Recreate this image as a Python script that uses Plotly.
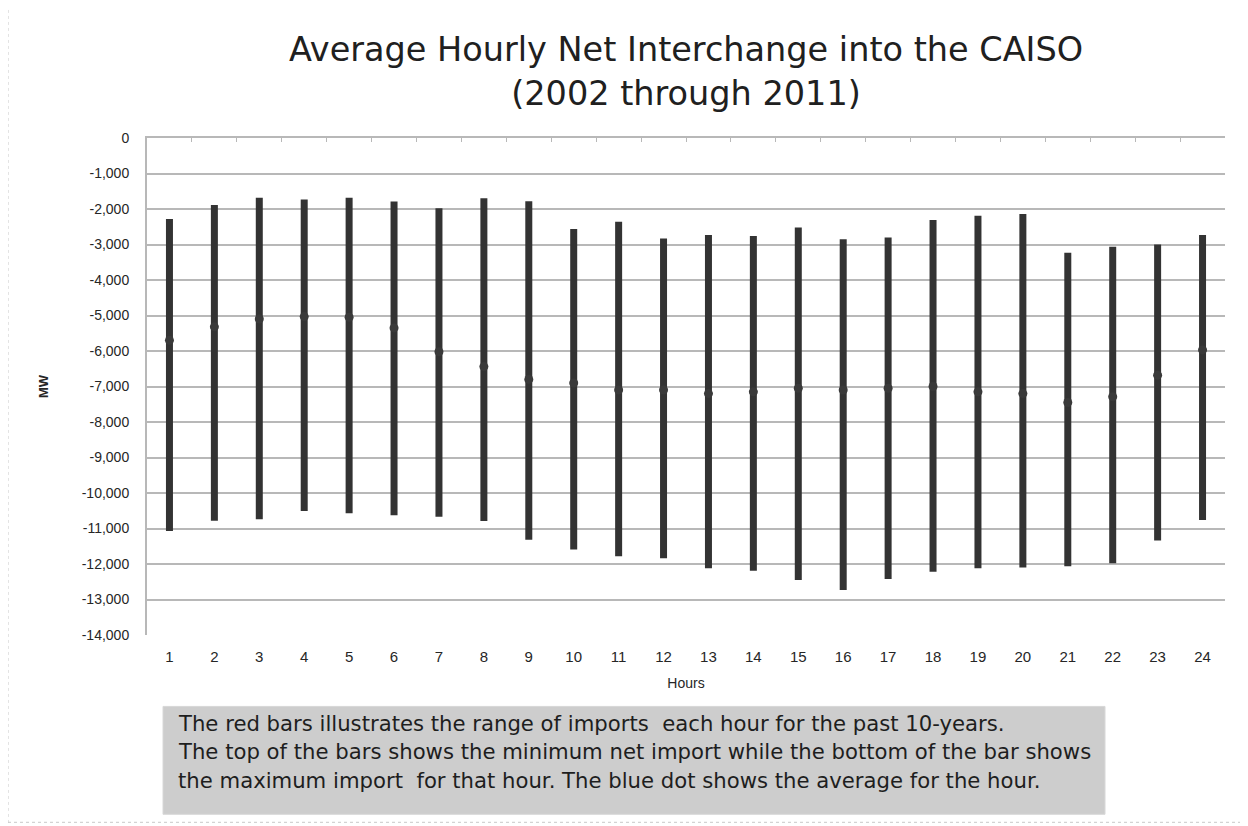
import plotly.graph_objects as go

# ---------------- data ----------------
hours = list(range(1, 25))
hour_labels = [str(h) for h in hours]

# top of each bar (minimum net import), MW
range_top = [-2280, -1890, -1680, -1730, -1680, -1790, -1980, -1700, -1780, -2560, -2360, -2830,
             -2730, -2760, -2520, -2850, -2800, -2310, -2190, -2140, -3230, -3060, -3000, -2730]
# bottom of each bar (maximum net import), MW
range_bottom = [-11070, -10780, -10740, -10510, -10570, -10630, -10670, -10790, -11320, -11590, -11780, -11840,
                -12120, -12190, -12450, -12730, -12420, -12220, -12120, -12100, -12060, -11980, -11340, -10760]
# hourly average (dot), MW
hour_avg = [-5700, -5320, -5100, -5030, -5050, -5350, -6020, -6440, -6800, -6900, -7100, -7100,
            -7200, -7150, -7050, -7100, -7050, -7000, -7150, -7200, -7450, -7290, -6680, -5970]

y_tick_vals = [0, -1000, -2000, -3000, -4000, -5000, -6000, -7000, -8000, -9000, -10000,
               -11000, -12000, -13000, -14000]
y_tick_text = ["0", "-1,000", "-2,000", "-3,000", "-4,000", "-5,000", "-6,000", "-7,000", "-8,000",
               "-9,000", "-10,000", "-11,000", "-12,000", "-13,000", "-14,000"]

title_text = "Average Hourly Net Interchange into the CAISO<br>(2002 through 2011)"
note_lines = [
    "The red bars illustrates the range of imports  each hour for the past 10-years.",
    "The top of the bars shows the minimum net import while the bottom of the bar shows",
    "the maximum import  for that hour. The blue dot shows the average for the hour.",
]

# ---------------- figure ----------------
bar_color = "#333333"
grid_color = "#b8b8b8"
text_color = "#262626"

xs, ys = [], []
for h, t, b in zip(hours, range_top, range_bottom):
    xs += [h, h, None]
    ys += [t, b, None]

fig = go.Figure()
fig.add_trace(go.Scatter(x=xs, y=ys, mode="lines",
                         line=dict(color=bar_color, width=7),
                         showlegend=False, hoverinfo="skip"))
fig.add_trace(go.Scatter(x=hours, y=hour_avg, mode="markers",
                         marker=dict(color="#3a3a3a", size=9),
                         showlegend=False))
# helper trace to register the top (category) axis that crosses at zero
fig.add_trace(go.Scatter(x=[hours[0]], y=[range_top[0]], xaxis="x2", mode="markers",
                         marker=dict(opacity=0), showlegend=False, hoverinfo="skip"))

fig.update_layout(
    width=1248, height=826,
    paper_bgcolor="white", plot_bgcolor="white",
    margin=dict(l=139, r=31, t=130, b=198.5),
    font=dict(family="Liberation Sans, Arial", color=text_color),
    title=dict(text=title_text, x=0.5, xanchor="center", xref="paper",
               y=1 - 53 / 826, yanchor="top", yref="container",
               font=dict(family="DejaVu Sans", size=33.5, color="#202020")),
    xaxis=dict(range=[0.5, 24.5], tickvals=hours, ticktext=hour_labels,
               showgrid=False, zeroline=False, showline=False,
               ticks="outside", ticklen=8, tickcolor="rgba(0,0,0,0)",
               tickfont=dict(size=15, color=text_color),
               title=dict(text="Hours", standoff=14, font=dict(size=14, color=text_color))),
    xaxis2=dict(range=[0.5, 24.5], overlaying="x", side="top", anchor="y",
                tickvals=[h - 0.5 for h in hours] + [hours[-1] + 0.5],
                ticks="inside", ticklen=4, tickcolor=grid_color,
                showticklabels=False, showgrid=False, zeroline=False,
                showline=True, linecolor=grid_color, linewidth=2),
    yaxis=dict(range=[-14000, 0], tickvals=y_tick_vals, ticktext=y_tick_text,
               showgrid=True, gridcolor=grid_color, gridwidth=2,
               zeroline=False, showline=True, linecolor=grid_color, linewidth=2,
               ticks="outside", ticklen=13, tickcolor="rgba(0,0,0,0)",
               tickfont=dict(size=14, color=text_color),
               title=dict(text="<b>MW</b>", standoff=30, font=dict(size=13, color=text_color))),
)

# note box
fig.add_shape(type="rect", xref="paper", yref="paper",
              x0=(163 - 147) / 1078, x1=(1105 - 147) / 1078,
              y0=(635.5 - 707) / 497.5, y1=(635.5 - 815) / 497.5,
              fillcolor="#cdcdcd", line=dict(color="#d8d8d8", width=1), layer="below")
for i, line in enumerate(note_lines):
    fig.add_annotation(text=line, xref="paper", yref="paper",
                       x=(176 - 147) / 1078, y=(635.5 - (724 + i * 28.5)) / 497.5,
                       xanchor="left", yanchor="middle", showarrow=False, align="left",
                       font=dict(family="DejaVu Sans", size=21.2, color="#1e1e1e"))

# outer chart border
fig.add_shape(type="rect", xref="paper", yref="paper",
              x0=(8 - 147) / 1078, x1=(1244 - 147) / 1078,
              y0=(635.5 - 823) / 497.5, y1=(635.5 - 5) / 497.5,
              line=dict(color="#c8c8c8", width=1, dash="dot"), fillcolor="rgba(0,0,0,0)")

fig.write_html("out.html")
